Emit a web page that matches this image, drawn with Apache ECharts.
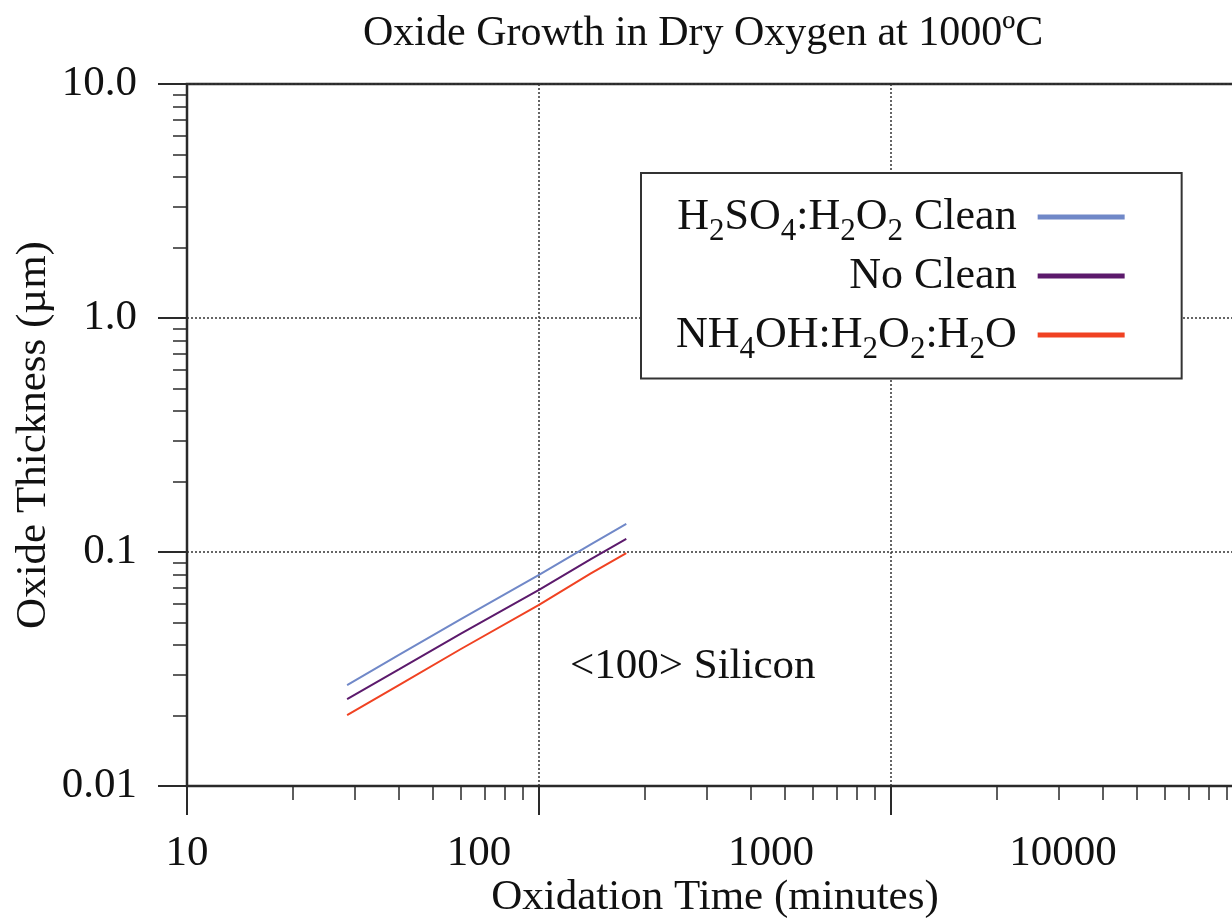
<!DOCTYPE html>
<html>
<head>
<meta charset="utf-8">
<title>Oxide Growth in Dry Oxygen at 1000ºC</title>
<script src="https://cdn.jsdelivr.net/npm/echarts@6/dist/echarts.min.js"></script>
<style>
  html, body { margin: 0; padding: 0; background: #fff; }
  #chart { width: 1232px; height: 920px; }
</style>
</head>
<body>
<div id="chart"></div>
<script>
// oxidation time (minutes) for every curve
const times = [28.5, 40, 60, 100, 140, 177]
// oxide thickness (um)
const sulfuricClean = [0.0270, 0.0363, 0.0516, 0.0798, 0.1076, 0.1318]
const noClean = [0.0235, 0.0315, 0.0448, 0.0689, 0.0930, 0.1138]
const ammoniaClean = [0.0201, 0.0270, 0.0385, 0.0594, 0.0808, 0.0990]

const seriesNames = ['H2SO4:H2O2 Clean', 'No Clean', 'NH4OH:H2O2:H2O']
// {s|..} = subscript; the empty one keeps every legend row the same height
const legendLabels = ['H{s|2}SO{s|4}:H{s|2}O{s|2} Clean', 'No Clean{s|\u200b}', 'NH{s|4}OH:H{s|2}O{s|2}:H{s|2}O']
const colors = ['#7088c8', '#5c1a6c', '#f04222']

const xMajor = [10, 100, 1000, 10000]
const xMinor = [20, 30, 40, 50, 60, 70, 80, 90, 200, 300, 400, 500, 600, 700, 800, 900,
  2000, 3000, 4000, 5000, 6000, 7000, 8000, 9000]
const xTickLabels = [10, 100, 1000, 10000]
const yMajor = [0.01, 0.1, 1, 10]
const yMinor = [0.02, 0.03, 0.04, 0.05, 0.06, 0.07, 0.08, 0.09, 0.2, 0.3, 0.4, 0.5, 0.6, 0.7, 0.8, 0.9,
  2, 3, 4, 5, 6, 7, 8, 9]
const yTickLabels = ['0.01', '0.1', '1.0', '10.0']

const font = 'Liberation Serif'
const ink = '#111'
const axisColor = '#2a2a2a'
const gridLine = { show: true, lineStyle: { color: '#333', width: 1.5, type: [2, 2] } }

let chart = echarts.init(document.getElementById('chart'))

function pairs (ys) {
  return times.map((t, i) => [t, ys[i]])
}

let option = {
  animation: false,
  textStyle: { fontFamily: font, color: ink },
  title: {
    text: 'Oxide Growth in Dry Oxygen at 1000ºC',
    left: 358,
    top: 8,
    textStyle: { fontFamily: font, fontSize: 42, fontWeight: 'normal', color: ink }
  },
  grid: {
    left: 187,
    top: 84,
    right: -11,
    bottom: 134,
    show: true,
    borderColor: axisColor,
    borderWidth: 2.5,
    backgroundColor: 'transparent',
    outerBoundsMode: 'none'
  },
  legend: {
    data: seriesNames,
    orient: 'vertical',
    left: 641,
    top: 173,
    align: 'right',
    icon: 'rect',
    itemWidth: 87,
    itemHeight: 5,
    itemGap: 3.5,
    padding: [19, 57, 13, 35],
    borderColor: '#333',
    borderWidth: 2,
    backgroundColor: '#fff',
    formatter: function (name) {
      return legendLabels[seriesNames.indexOf(name)]
    },
    textStyle: {
      fontFamily: font,
      fontSize: 44,
      color: ink,
      lineHeight: 50,
      padding: [0, 16, 0, 0],
      rich: {
        s: { fontFamily: font, fontSize: 31, color: ink, padding: [30, 0, 0, 0] }
      }
    }
  },
  graphic: [
    {
      type: 'text',
      left: 570,
      top: 645,
      style: { text: '<100> Silicon', fontFamily: font, fontSize: 43, fill: ink }
    }
  ],
  xAxis: [
    {
      // minor ticks and the axis name
      type: 'log',
      position: 'bottom',
      min: 10,
      max: 10000,
      name: 'Oxidation Time (minutes)',
      nameLocation: 'middle',
      nameGap: 90,
      nameMoveOverlap: false,
      nameTextStyle: { fontFamily: font, fontSize: 43, color: ink },
      axisLine: { show: true, onZero: false, lineStyle: { color: axisColor, width: 2 } },
      axisTick: { show: true, inside: false, length: 14, customValues: xMinor, lineStyle: { color: axisColor, width: 1.5 } },
      axisLabel: { show: false },
      splitLine: { show: false }
    },
    {
      // major ticks and grid lines
      type: 'log',
      position: 'bottom',
      min: 10,
      max: 10000,
      axisLine: { show: false, onZero: false },
      axisTick: { show: true, inside: false, length: 29, customValues: xMajor, lineStyle: { color: axisColor, width: 2 } },
      axisLabel: { show: false },
      splitLine: gridLine
    },
    {
      // tick labels, set where the original figure prints them
      type: 'log',
      position: 'bottom',
      min: 10,
      max: 41300,
      axisLine: { show: false, onZero: false },
      axisTick: { show: false },
      axisLabel: {
        show: true,
        margin: 46,
        customValues: xTickLabels,
        fontFamily: font,
        fontSize: 43,
        color: ink,
        formatter: v => String(Math.round(v))
      },
      splitLine: { show: false }
    }
  ],
  yAxis: [
    {
      type: 'log',
      position: 'left',
      min: 0.01,
      max: 10,
      name: 'Oxide Thickness (µm)',
      nameLocation: 'middle',
      nameGap: 132,
      nameRotate: 90,
      nameMoveOverlap: false,
      nameTextStyle: { fontFamily: font, fontSize: 43, color: ink },
      axisLine: { show: true, onZero: false, lineStyle: { color: axisColor, width: 2 } },
      axisTick: { show: true, inside: false, length: 14, customValues: yMinor, lineStyle: { color: axisColor, width: 1.5 } },
      axisLabel: { show: false },
      splitLine: { show: false }
    },
    {
      type: 'log',
      position: 'left',
      min: 0.01,
      max: 10,
      axisLine: { show: false, onZero: false },
      axisTick: { show: true, inside: false, length: 29, customValues: yMajor, lineStyle: { color: axisColor, width: 2 } },
      axisLabel: {
        show: true,
        margin: 50,
        customValues: yMajor,
        fontFamily: font,
        fontSize: 43,
        color: ink,
        formatter: function (v) {
          let i = yMajor.findIndex(m => Math.abs(Math.log10(m) - Math.log10(v)) < 1e-6)
          return i >= 0 ? yTickLabels[i] : ''
        }
      },
      splitLine: gridLine
    }
  ],
  series: [
    {
      name: seriesNames[0],
      type: 'line',
      showSymbol: false,
      symbol: 'none',
      color: colors[0],
      lineStyle: { width: 2, color: colors[0] },
      data: pairs(sulfuricClean)
    },
    {
      name: seriesNames[1],
      type: 'line',
      showSymbol: false,
      symbol: 'none',
      color: colors[1],
      lineStyle: { width: 2, color: colors[1] },
      data: pairs(noClean)
    },
    {
      name: seriesNames[2],
      type: 'line',
      showSymbol: false,
      symbol: 'none',
      color: colors[2],
      lineStyle: { width: 2, color: colors[2] },
      data: pairs(ammoniaClean)
    }
  ]
}

option && chart.setOption(option)
</script>
</body>
</html>
